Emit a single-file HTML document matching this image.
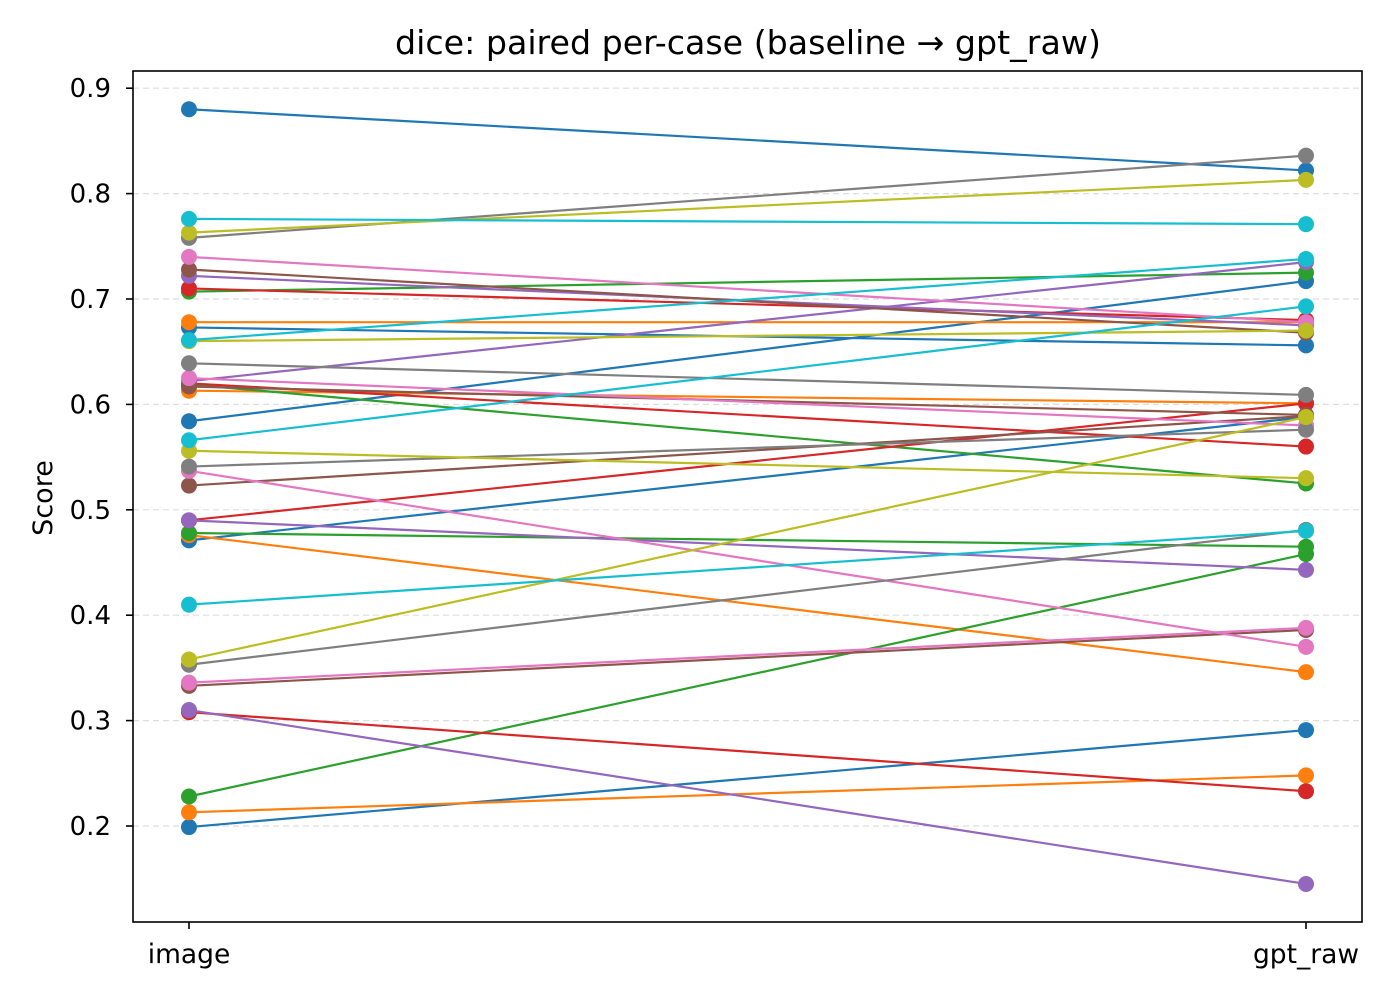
<!DOCTYPE html>
<html><head><meta charset="utf-8"><style>
body{margin:0;background:#fff;}
svg text{font-family:"DejaVu Sans","Liberation Sans",sans-serif;fill:#000;}
</style></head><body>
<svg id="chart" width="1400" height="1000" xmlns="http://www.w3.org/2000/svg">
<rect width="1400" height="1000" fill="#fff"/>
<text x="748" y="54" font-size="33" text-anchor="middle" textLength="706" lengthAdjust="spacingAndGlyphs">dice: paired per-case (baseline → gpt_raw)</text>
<g id="grid"></g><g id="lines"></g><g id="axes"></g>
</svg>
<script>
const categories = ["image", "gpt_raw"];
const baseline = [0.88,0.673,0.584,0.471,0.199, 0.678,0.613,0.476,0.213, 0.707,0.619,0.478,0.228, 0.71,0.62,0.49,0.308, 0.622,0.49,0.31,0.722, 0.728,0.523,0.333,0.617, 0.74,0.625,0.537,0.336, 0.758,0.639,0.541,0.353, 0.763,0.66,0.556,0.358, 0.776,0.661,0.566,0.41];
const gptRaw = [0.822,0.656,0.717,0.588,0.291, 0.678,0.601,0.346,0.248, 0.725,0.525,0.465,0.458, 0.68,0.56,0.601,0.233, 0.735,0.443,0.145,0.675, 0.668,0.589,0.386,0.59, 0.678,0.58,0.37,0.388, 0.836,0.609,0.576,0.481, 0.813,0.67,0.53,0.588, 0.771,0.738,0.693,0.48];
const seriesColors = ["#1f77b4","#1f77b4","#1f77b4","#1f77b4","#1f77b4","#ff7f0e","#ff7f0e","#ff7f0e","#ff7f0e","#2ca02c","#2ca02c","#2ca02c","#2ca02c","#d62728","#d62728","#d62728","#d62728","#9467bd","#9467bd","#9467bd","#9467bd","#8c564b","#8c564b","#8c564b","#8c564b","#e377c2","#e377c2","#e377c2","#e377c2","#7f7f7f","#7f7f7f","#7f7f7f","#7f7f7f","#bcbd22","#bcbd22","#bcbd22","#bcbd22","#17becf","#17becf","#17becf","#17becf"];
const yTicks = [0.2,0.3,0.4,0.5,0.6,0.7,0.8,0.9];
const yTickLabels = ["0.2","0.3","0.4","0.5","0.6","0.7","0.8","0.9"];

const NS="http://www.w3.org/2000/svg";
const L=133,R=1362,T=71,B=922;
const yScale=v=>826-(v-0.2)*1054;
const xScale=i=>189+i*(1306-189);
function mk(tag,attrs,parent){const e=document.createElementNS(NS,tag);for(const k in attrs)e.setAttribute(k,attrs[k]);parent.appendChild(e);return e;}
const grid=document.getElementById('grid'),lines=document.getElementById('lines'),axes=document.getElementById('axes');
yTicks.forEach((t,i)=>{
  const y=yScale(t);
  const g=mk('line',{x1:L,x2:R,y1:y,y2:y,stroke:'#dddddd','stroke-width':1.2,'stroke-dasharray':'6,4'},grid);
  
  
  const tk=mk('line',{x1:L-7,x2:L,y1:y,y2:y,stroke:'#000','stroke-width':1.6},axes);
  
  
  const tx=mk('text',{x:L-22,y:y+9,'font-size':26,'text-anchor':'end'},axes);
  tx.textContent=yTickLabels[i];
  
  
});
categories.forEach((c,i)=>{
  const x=xScale(i);
  const tk=mk('line',{x1:x,x2:x,y1:B,y2:B+7,stroke:'#000','stroke-width':1.6},axes);
  
  
  const tx=mk('text',{x:x,y:B+41,'font-size':26.5,'text-anchor':'middle'},axes);
  tx.textContent=c;
  
  
});
baseline.forEach((b,i)=>{
  const g=mk('g',{},lines);
  
  
  const c=seriesColors[i];
  mk('line',{x1:xScale(0),y1:yScale(b),x2:xScale(1),y2:yScale(gptRaw[i]),stroke:c,'stroke-width':2.2},g);
  mk('circle',{cx:xScale(0),cy:yScale(b),r:8,fill:c},g);
  mk('circle',{cx:xScale(1),cy:yScale(gptRaw[i]),r:8,fill:c},g);
});
const fr=mk('rect',{x:L,y:T,width:R-L,height:B-T,fill:'none',stroke:'#000','stroke-width':1.6},axes);


const yl=mk('text',{x:0,y:0,'font-size':27,'text-anchor':'middle',transform:'translate(52,498) rotate(-90)'},axes);
yl.textContent='Score';


</script>
</body></html>
